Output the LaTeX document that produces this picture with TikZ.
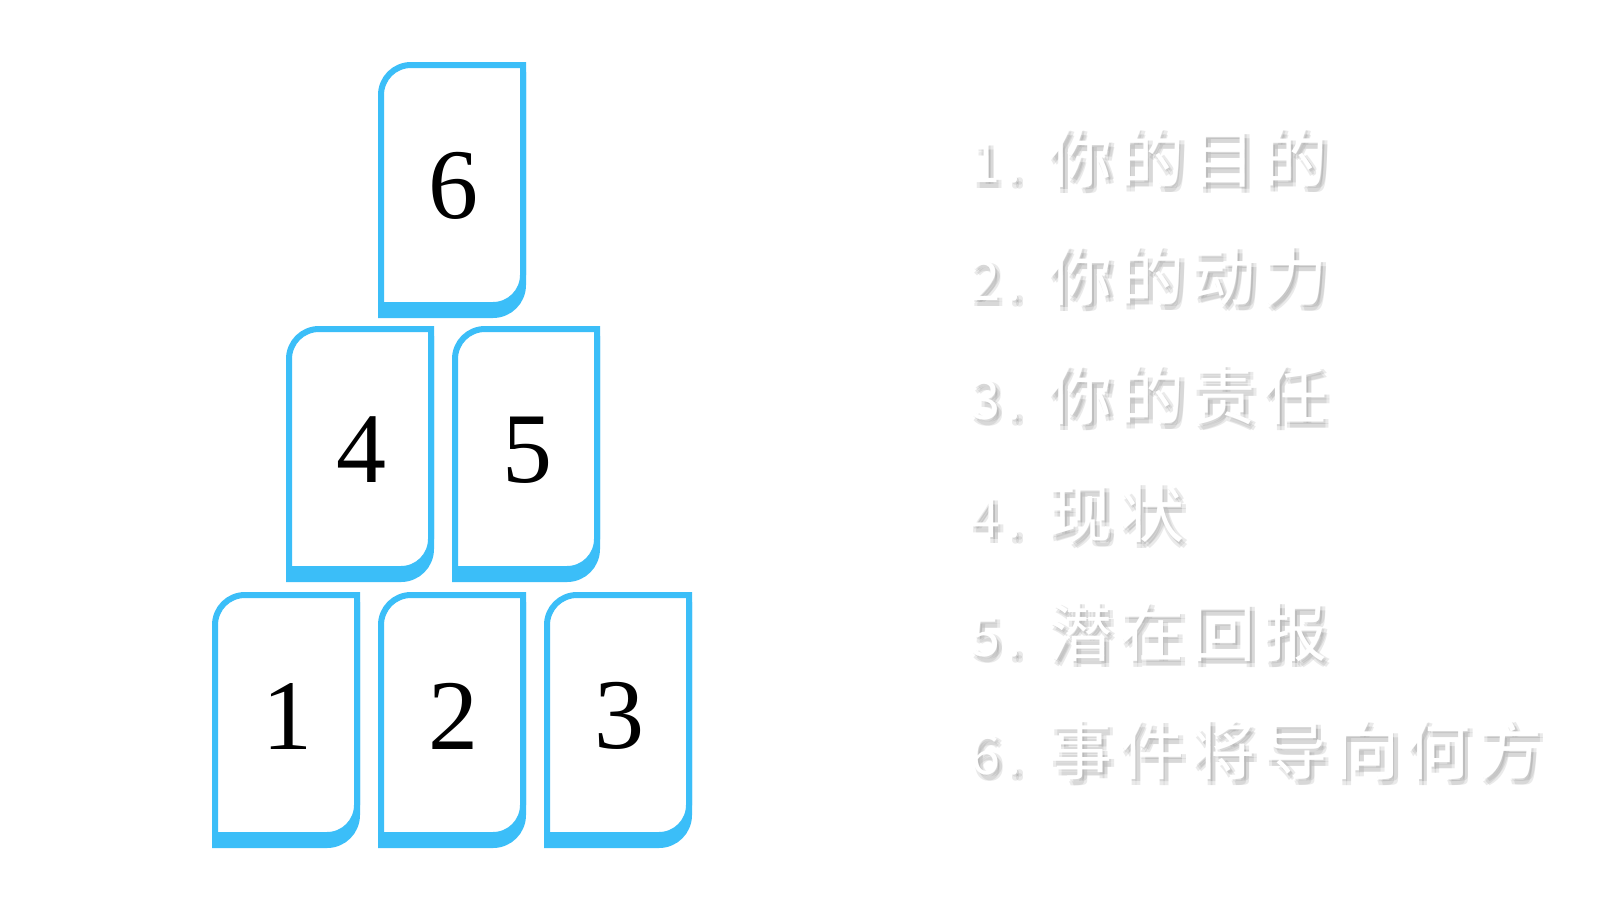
\documentclass[tikz,border=0pt]{standalone}
\usepackage{fontspec}
\newfontfamily\cjk[LetterSpace=12]{Noto Sans CJK SC}
\newfontfamily\numfont{Liberation Serif}
\definecolor{cardblue}{RGB}{59,190,248}
\tikzset{
  cardline/.style={draw=cardblue, line width=3pt, fill=white},
  cardshadow/.style={draw=cardblue, line width=3pt, fill=cardblue},
  cardnum/.style={font=\numfont\fontsize{50}{58}\selectfont, inner sep=0pt},
  itemtext/.style={font=\cjk\fontsize{32}{38}\selectfont, anchor=base west, inner sep=0pt, text=white},
  itemshadow/.style={itemtext, text=black!55, text opacity=0.15},
}
\newcommand\drawcard[4]{% name, left, top, digit (image px)
  \draw[cardshadow, shift={(0,10)}] ({#2+3},{#3+243}) -- ({#2+3},{#3+33})
     .. controls ({#2+3},{#3+16.4}) and ({#2+16.4},{#3+3}) .. ({#2+33},{#3+3})
     -- ({#2+145},{#3+3}) -- ({#2+145},{#3+213})
     .. controls ({#2+145},{#3+229.6}) and ({#2+131.6},{#3+243}) .. ({#2+115},{#3+243}) -- cycle;
  \draw[cardline] ({#2+3},{#3+243}) -- ({#2+3},{#3+33})
     .. controls ({#2+3},{#3+16.4}) and ({#2+16.4},{#3+3}) .. ({#2+33},{#3+3})
     -- ({#2+145},{#3+3}) -- ({#2+145},{#3+213})
     .. controls ({#2+145},{#3+229.6}) and ({#2+131.6},{#3+243}) .. ({#2+115},{#3+243}) -- cycle;
  \node[cardnum] (#1) at ({#2+75},{#3+124}) {#4};
}
\newcommand\itemcontent[2]{\makebox[39pt][l]{\fontsize{27}{30}\selectfont #1.}#2}
\newcommand\shadowcopies[1]{%
  \foreach \dx in {0.8,2.6}{\foreach \dy in {1.3,3.1}{%
    \makebox[0pt][l]{\hspace*{\dx pt}\raisebox{-\dy pt}{#1}}}}%
  \phantom{#1}}
\newcommand\itemline[4]{% name, center y, number, text
  \node[itemshadow] (#1s) at (970,{#2+24}) {\shadowcopies{\itemcontent{#3}{#4}}};
  \node[itemtext] (#1) at (970,{#2+24}) {\itemcontent{#3}{#4}};
}
\begin{document}
\begin{tikzpicture}[x=0.5pt, y=-0.5pt]
  \fill[white] (0,0) rectangle (1600,900);
  \useasboundingbox (0,0) rectangle (1600,900);
  % cards
  \drawcard{c6}{378}{62}{6}
  \drawcard{c4}{286}{326}{4}
  \drawcard{c5}{452}{326}{5}
  \drawcard{c1}{212}{592}{1}
  \drawcard{c2}{378}{592}{2}
  \drawcard{c3}{544}{592}{3}
  % list
  \itemline{t1}{158}{1}{你的目的}
  \itemline{t2}{276}{2}{你的动力}
  \itemline{t3}{395}{3}{你的责任}
  \itemline{t4}{513}{4}{现状}
  \itemline{t5}{632}{5}{潜在回报}
  \itemline{t6}{750}{6}{事件将导向何方}
\end{tikzpicture}
\end{document}
